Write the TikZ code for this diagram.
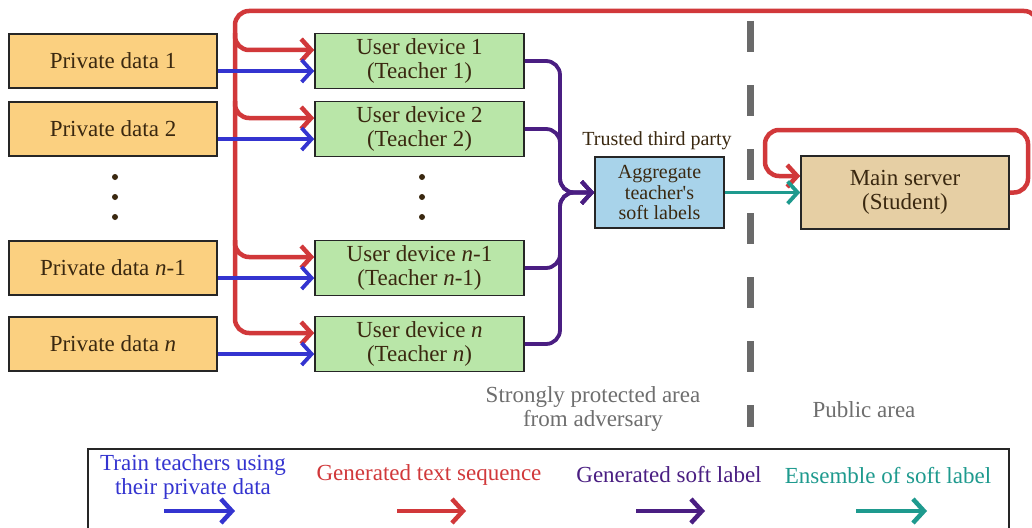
\documentclass[tikz,border=0pt]{standalone}
\usepackage{fontspec}
\setmainfont{Liberation Serif}
\usetikzlibrary{arrows.meta}
\definecolor{pdfill}{HTML}{FBD080}
\definecolor{udfill}{HTML}{B9E6A8}
\definecolor{agfill}{HTML}{A8D3EA}
\definecolor{msfill}{HTML}{E6CFA4}
\definecolor{redc}{HTML}{D1383A}
\definecolor{bluec}{HTML}{3434D0}
\definecolor{purc}{HTML}{4A1E82}
\definecolor{tealc}{HTML}{1E9A8E}
\definecolor{txtc}{HTML}{3A2810}
\definecolor{greyc}{HTML}{6A6A6A}
\definecolor{greytxt}{HTML}{6E6E6E}
\begin{document}
\begin{tikzpicture}[x=1pt,y=-1pt,
  box/.style={draw=black!85, line width=1.6pt, text=txtc, font=\fontsize{23}{24}\selectfont, align=center, inner sep=0pt},
  pd/.style={box, fill=pdfill, minimum width=208pt, minimum height=54pt},
  ud/.style={box, fill=udfill, minimum width=209pt, minimum height=55pt},
  conn/.style={line width=3.8pt, rounded corners=14pt},
  redconn/.style={conn, line width=4.5pt, redc},
  tip/.style={-{Straight Barb[length=10pt,width=22pt]}},
  lgtext/.style={font=\fontsize{23}{24}\selectfont, align=center, inner sep=0pt},
  lgarrow/.style={line width=4.5pt, -{Straight Barb[length=11pt,width=24pt]}},
  plain/.style={font=\fontsize{23}{24}\selectfont, align=center, inner sep=0pt}]
\useasboundingbox (0,0) rectangle (1032,527);
\clip (0,0) rectangle (1032,527);
\fill[white] (0,0) rectangle (1032,527);

% separator
\draw[greyc, line width=7pt, dash pattern=on 31pt off 33pt] (750,21) -- (750,427);

% private data
\node[pd] (p1) at (113,61) {Private data 1};
\node[pd] (p2) at (113,129) {Private data 2};
\node[pd] (pn1) at (113,268) {Private data \textit{n}-1};
\node[pd] (pn) at (113,344) {Private data \textit{n}};

% user devices
\node[ud] (u1) at (419.5,61) {User device 1\\(Teacher 1)};
\node[ud] (u2) at (419.5,129) {User device 2\\(Teacher 2)};
\node[ud] (un1) at (419.5,268) {User device \textit{n}-1\\(Teacher \textit{n}-1)};
\node[ud] (un) at (419.5,344) {User device \textit{n}\\(Teacher \textit{n})};

% dots
\foreach \yy in {177,197,217}{
  \fill[txtc] (115,\yy) circle (3pt);
  \fill[txtc] (422,\yy) circle (3pt);
}

% aggregator and server
\node[box, fill=agfill, minimum width=129pt, minimum height=71pt, font=\fontsize{20}{20.5}\selectfont] (ag) at (659.5,192.5) {Aggregate\\teacher\textquotesingle s\\soft labels};
\node[plain, text=txtc, font=\fontsize{20}{20}\selectfont] (ttp) at (657,141) {Trusted third party};
\node[box, fill=msfill, minimum width=208pt, minimum height=73pt] (ms) at (905,192.5) {Main server\\(Student)};

% area labels
\node[plain, text=greytxt] (spa) at (593,409) {Strongly protected area\\from adversary};
\node[plain, text=greytxt] (pub) at (864,410) {Public area};

% red connectors
\coordinate (rtop) at (1038,90);
\coordinate (tk) at (235,0);
\draw[redconn, tip] (rtop) -- (1038,11) -- (235,11) |- ([yshift=11pt]un.west);
\draw[redconn, tip] (tk |- p1.north) |- ([yshift=11pt]u1.west);
\draw[redconn, tip] (tk |- p2.north) |- ([yshift=11pt]u2.west);
\draw[redconn, tip] (tk |- pn1.north) |- ([yshift=11pt]un1.west);
\draw[redconn, tip] (ms.east) -- (1028,192.5) -- (1028,130) -- (765,130) |- ([yshift=16.5pt]ms.west);

% blue connectors
\draw[conn, bluec, tip] ([yshift=-10pt]p1.east) -- ([yshift=-10pt]u1.west);
\draw[conn, bluec, tip] ([yshift=-10pt]p2.east) -- ([yshift=-10pt]u2.west);
\draw[conn, bluec, tip] ([yshift=-10pt]pn1.east) -- ([yshift=-10pt]un1.west);
\draw[conn, bluec, tip] ([yshift=-10pt]pn.east) -- ([yshift=-10pt]un.west);

% purple connectors
\coordinate (pm) at (560,0);
\draw[conn, purc, tip] (u1.east) -| (pm |- ag.west) -- (ag.west);
\draw[conn, purc, tip] (u2.east) -| (pm |- ag.west) -- (ag.west);
\draw[conn, purc, tip] (un1.east) -| (pm |- ag.west) -- (ag.west);
\draw[conn, purc, tip] (un.east) -| (pm |- ag.west) -- (ag.west);

% teal
\draw[conn, tealc, tip] (ag.east) -- (ms.west);

% legend
\draw[line width=1.8pt, black!85] (88,449) rectangle (1009,545);
\node[lgtext, text=bluec] (lg1) at (193,477) {Train teachers using\\their private data};
\node[lgtext, text=redc] (lg2) at (429,475) {Generated text sequence};
\node[lgtext, text=purc] (lg3) at (669,475) {Generated soft label};
\node[lgtext, text=tealc] (lg4) at (888,476) {Ensemble of soft label};
\coordinate (a1s) at (164,511); \coordinate (a1e) at (235,511);
\coordinate (a2s) at (397,511); \coordinate (a2e) at (466,511);
\coordinate (a3s) at (636,511); \coordinate (a3e) at (705,511);
\coordinate (a4s) at (856,511); \coordinate (a4e) at (927,511);
\draw[lgarrow, bluec] (a1s) -- (a1e);
\draw[lgarrow, redc] (a2s) -- (a2e);
\draw[lgarrow, purc] (a3s) -- (a3e);
\draw[lgarrow, tealc] (a4s) -- (a4e);
\end{tikzpicture}
\end{document}
